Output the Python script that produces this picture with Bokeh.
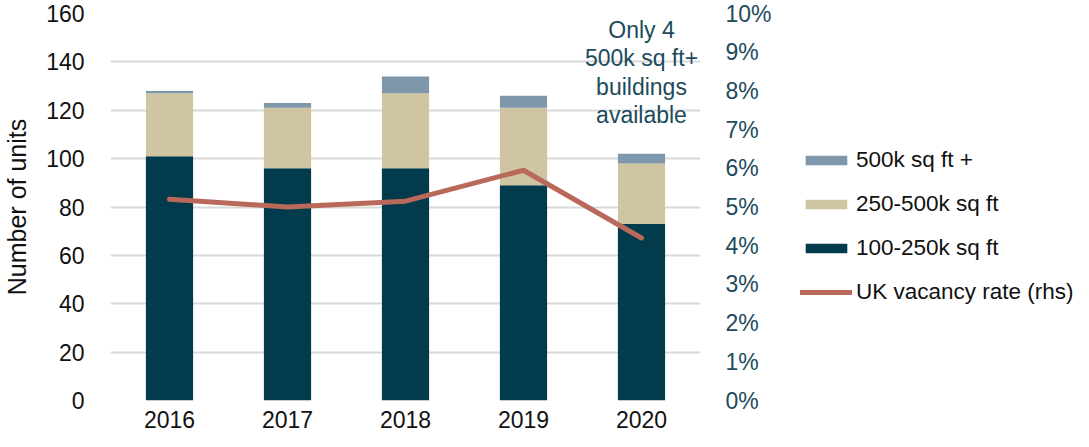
from bokeh.plotting import figure
from bokeh.layouts import row
from bokeh.models import (FactorRange, Range1d, LinearAxis, FixedTicker, PrintfTickFormatter,
                          Legend, LegendItem, ColumnDataSource)
from bokeh.core.properties import value
from bokeh.embed import file_html
from bokeh.resources import INLINE

years = ["2016", "2017", "2018", "2019", "2020"]
units_100_250 = [101, 96, 96, 89, 73]
units_250_500 = [26, 25, 31, 32, 25]
units_500_plus = [1, 2, 7, 5, 4]
vacancy_rate = [5.2, 5.0, 5.15, 5.95, 4.2]
series_names = ["100-250k sq ft", "250-500k sq ft", "500k sq ft +"]
line_name = "UK vacancy rate (rhs)"
note_lines = ["Only 4", "500k sq ft+", "buildings", "available"]

FONT = "Liberation Sans"
FS = "23px"
C_DARK = "#023b4c"
C_TAN = "#cfc5a2"
C_BLUE = "#7e97ab"
C_LINE = "#b9695a"
C_TEAL = "#1c4b5b"
C_TXT = "#111111"
COLORS = [C_DARK, C_TAN, C_BLUE]

src = ColumnDataSource(dict(year=years, a=units_100_250, b=units_250_500, c=units_500_plus,
                            vac=vacancy_rate))

p = figure(x_range=FactorRange(*years), y_range=Range1d(0, 160),
           frame_width=590, frame_height=387, output_backend="svg", toolbar_location=None,
           min_border_left=106, min_border_right=80, min_border_top=13, min_border_bottom=31)
p.outline_line_color = None
p.extra_y_ranges = {"pct": Range1d(0, 10)}

bars = p.vbar_stack(["a", "b", "c"], x="year", width=0.4, source=src,
                    color=COLORS, line_color=None)
ln = p.line(x="year", y="vac", source=src, y_range_name="pct", line_color=C_LINE,
            line_width=5, line_cap="round", line_join="round")

note_src = ColumnDataSource(dict(x=["2020"] * 4, y=[160] * 4, t=note_lines,
                                 off=[16, 44, 73, 101]))
p.text(x="x", y="y", text="t", y_offset="off", source=note_src, text_font=value(FONT),
       text_font_size=FS, text_color=C_TEAL, text_align="center", text_baseline="alphabetic")

# left axis
ya = p.yaxis[0]
ya.ticker = FixedTicker(ticks=list(range(0, 161, 20)))
ya.axis_line_color = None
ya.major_tick_line_color = None
ya.minor_tick_line_color = None
ya.major_label_text_font = FONT
ya.major_label_text_font_size = FS
ya.major_label_text_color = C_TXT
ya.major_label_standoff = 20
ya.axis_label = "Number of units"
ya.axis_label_text_font = FONT
ya.axis_label_text_font_size = "25px"
ya.axis_label_text_font_style = "normal"
ya.axis_label_text_color = C_TXT
ya.axis_label_standoff = 12

# x axis
xa = p.xaxis[0]
xa.axis_line_color = None
xa.major_tick_line_color = None
xa.minor_tick_line_color = None
xa.major_label_text_font = FONT
xa.major_label_text_font_size = FS
xa.major_label_text_color = C_TXT
xa.major_label_standoff = 4

# right axis
ra = LinearAxis(y_range_name="pct", ticker=FixedTicker(ticks=list(range(0, 11))),
                formatter=PrintfTickFormatter(format="%d%%"))
ra.axis_line_color = None
ra.major_tick_line_color = None
ra.minor_tick_line_color = None
ra.major_label_text_font = FONT
ra.major_label_text_font_size = FS
ra.major_label_text_color = C_TEAL
ra.major_label_standoff = 19
p.add_layout(ra, "right")

p.xgrid.grid_line_color = None
p.ygrid.grid_line_color = "#d9d9d9"
p.ygrid.grid_line_width = 2
p.ygrid.ticker = FixedTicker(ticks=list(range(0, 161, 20)))

# legend panel: a second figure whose hidden copies of the series carry the legend
p2 = figure(width=297, height=431, x_range=FactorRange(*years), y_range=Range1d(0, 160),
            x_axis_type=None, y_axis_type=None, output_backend="svg", toolbar_location=None,
            min_border=0)
p2.outline_line_color = None
p2.grid.grid_line_color = None
lr = p2.vbar_stack(["a", "b", "c"], x="year", width=0.4, source=src,
                   color=COLORS, line_color=None)
ll = p2.line(x="year", y="vac", source=src, line_color=C_LINE, line_width=5,
             line_cap="round")
for r in list(lr) + [ll]:
    r.visible = False

items = [LegendItem(label=series_names[2], renderers=[lr[2]]),
         LegendItem(label=series_names[1], renderers=[lr[1]]),
         LegendItem(label=series_names[0], renderers=[lr[0]]),
         LegendItem(label=line_name, renderers=[ll])]
leg = Legend(items=items, location=(20, 95), border_line_color=None,
             background_fill_alpha=0, label_text_font=FONT, label_text_font_size="22.5px",
             label_text_color=C_TXT, glyph_width=52, glyph_height=12, label_height=27,
             spacing=17, label_standoff=4, padding=0, margin=0, click_policy="none")
p2.add_layout(leg, "center")

layout = row(p, p2)
open("out.html", "w").write(file_html(layout, INLINE))
